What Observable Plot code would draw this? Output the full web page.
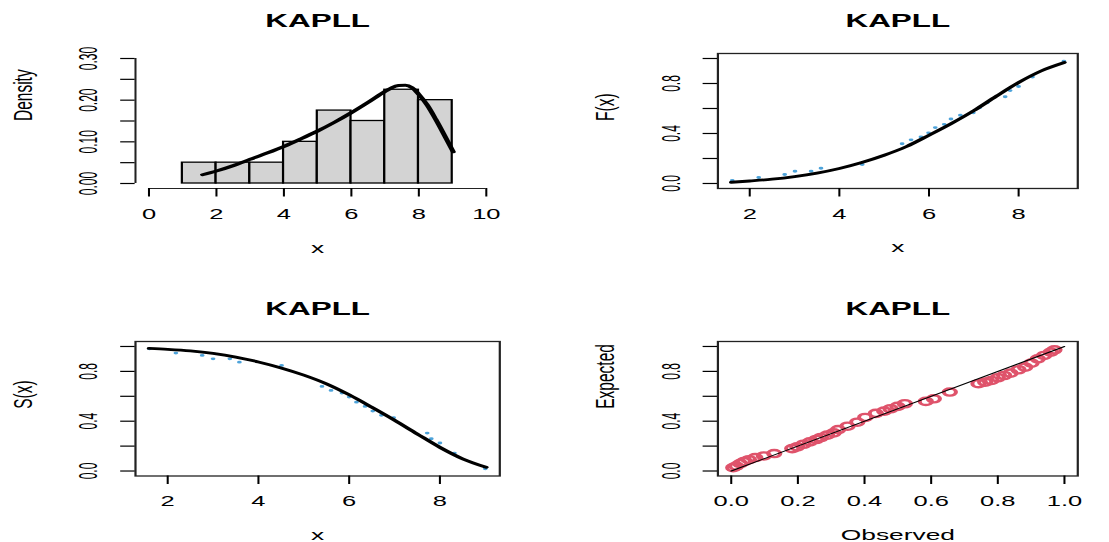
<!DOCTYPE html>
<html>
<head>
<meta charset="utf-8">
<script src="https://cdn.jsdelivr.net/npm/d3@7"></script>
<script src="https://cdn.jsdelivr.net/npm/@observablehq/plot@0.6"></script>
<style>
html, body { margin: 0; padding: 0; background: #ffffff; overflow: hidden; }
#wrap { position: relative; width: 652px; height: 542px; transform: scaleX(1.7); transform-origin: 0 0; }
#wrap svg { position: absolute; }
</style>
</head>
<body>
<div id="wrap"></div>
<script>
// ---------------- data ----------------
const panelTitle = "KAPLL";

// Panel 1: histogram + fitted density
const histBreaks = [1, 2, 3, 4, 5, 6, 7, 8, 9];
const histDensity = [0.05, 0.05, 0.05, 0.10, 0.175, 0.15, 0.225, 0.20];
const pdfX = [1.59, 2.0, 2.5, 3.0, 3.5, 4.0, 4.5, 5.0, 5.5, 6.0, 6.5, 7.0, 7.2, 7.4, 7.6, 7.8, 8.0, 8.25, 8.5, 8.75, 9.02];
const pdfY = [0.021, 0.030, 0.043, 0.058, 0.073, 0.089, 0.107, 0.126, 0.147, 0.170, 0.195, 0.221, 0.230, 0.235, 0.236, 0.230, 0.214, 0.188, 0.154, 0.117, 0.076];
const histXTicks = [0, 2, 4, 6, 8, 10];
const histXLabels = ["0", "2", "4", "6", "8", "10"];
const histYTicks = [0, 0.05, 0.10, 0.15, 0.20, 0.25, 0.30];
const histYLabels = ["0.00", "", "0.10", "", "0.20", "", "0.30"];

// Panel 2: fitted CDF + empirical points
const cdfX = [1.59, 2.0, 2.5, 3.0, 3.5, 4.0, 4.5, 5.0, 5.5, 6.0, 6.5, 7.0, 7.5, 8.0, 8.5, 9.02];
const cdfY = [0.010, 0.020, 0.034, 0.055, 0.083, 0.120, 0.168, 0.226, 0.296, 0.386, 0.480, 0.583, 0.698, 0.808, 0.900, 0.968];
const ecdfX = [1.61, 2.20, 2.78, 3.01, 3.37, 3.59, 4.51, 5.40, 5.60, 5.82, 5.99, 6.14, 6.34, 6.49, 6.70, 6.99, 7.13, 7.30, 7.70, 7.81, 8.00, 8.31, 9.01];
const ecdfY = [0.024, 0.048, 0.072, 0.098, 0.098, 0.122, 0.152, 0.318, 0.349, 0.372, 0.405, 0.447, 0.473, 0.516, 0.546, 0.565, 0.605, 0.645, 0.694, 0.743, 0.776, 0.851, 0.978];

// Panel 3: fitted survival + empirical points
const survX = [1.59, 2.0, 2.5, 3.0, 3.5, 4.0, 4.5, 5.0, 5.5, 6.0, 6.5, 7.0, 7.5, 8.0, 8.5, 9.02];
const survY = [0.985, 0.977, 0.964, 0.944, 0.915, 0.876, 0.828, 0.770, 0.700, 0.612, 0.512, 0.408, 0.298, 0.190, 0.098, 0.030];
const esurvX = [1.60, 2.18, 2.76, 3.00, 3.37, 3.58, 4.51, 5.40, 5.60, 5.84, 6.00, 6.16, 6.35, 6.52, 6.71, 6.98, 7.72, 7.81, 8.00, 8.32, 9.00];
const esurvY = [0.981, 0.947, 0.928, 0.901, 0.901, 0.874, 0.848, 0.679, 0.647, 0.626, 0.594, 0.553, 0.519, 0.481, 0.447, 0.428, 0.305, 0.259, 0.225, 0.144, 0.018];
const xTicksX = [2, 4, 6, 8];
const xTicksXLabels = ["2", "4", "6", "8"];
const probYTicks = [0, 0.2, 0.4, 0.6, 0.8, 1.0];
const probYLabels = ["0.0", "", "0.4", "", "0.8", ""];

// Panel 4: P-P plot
const ppObserved = [0.006, 0.015, 0.027, 0.038, 0.053, 0.072, 0.098, 0.129, 0.183, 0.198, 0.217, 0.236, 0.255, 0.269, 0.288, 0.307, 0.321, 0.349, 0.378, 0.402, 0.434,
                    0.459, 0.478, 0.499, 0.521, 0.584, 0.608, 0.656, 0.742, 0.762, 0.781, 0.800, 0.819, 0.838, 0.862, 0.882, 0.901, 0.920, 0.939, 0.959, 0.970];
const ppExpected = [0.027, 0.040, 0.059, 0.075, 0.091, 0.108, 0.121, 0.140, 0.180, 0.194, 0.215, 0.234, 0.253, 0.269, 0.288, 0.306, 0.333, 0.360, 0.392, 0.430, 0.463,
                    0.481, 0.500, 0.519, 0.540, 0.559, 0.580, 0.634, 0.701, 0.714, 0.727, 0.749, 0.767, 0.786, 0.813, 0.834, 0.866, 0.901, 0.928, 0.955, 0.973];
const refLine = [0, 1];
const ppXTicks = [0, 0.2, 0.4, 0.6, 0.8, 1.0];
const ppXLabels = ["0.0", "0.2", "0.4", "0.6", "0.8", "1.0"];

// ---------------- drawing ----------------
const FONT = "'Liberation Sans', Arial, Helvetica, sans-serif";
const wrap = document.getElementById("wrap");
const W = 652.35;

function labelMap(ticks, labels) {
  const m = new Map(ticks.map((t, i) => [t, labels[i]]));
  return d => m.get(d) ?? "";
}

function common(yLab, xLab) {
  return [
    Plot.text([panelTitle], {text: d => d, frameAnchor: "top", dy: -39.5, fontSize: 18.5, fontWeight: "bold", fill: "black"}),
    Plot.text([yLab], {text: d => d, frameAnchor: "left", dx: -66, rotate: -90, fontSize: 15.5, fill: "black"}),
    Plot.text([xLab], {text: d => d, frameAnchor: "bottom", dy: 64, fontSize: 15.5, fill: "black"})
  ];
}

function xAxis(ticks, labels) {
  return Plot.axisX(ticks, {anchor: "bottom", tickSize: 8.5, tickPadding: 11, tickFormat: labelMap(ticks, labels), fontSize: 15, label: null, strokeWidth: 1.2});
}
function yAxis(ticks, labels) {
  return Plot.axisY(ticks, {anchor: "left", tickSize: 8.5, tickPadding: 14, tickRotate: -90, tickFormat: labelMap(ticks, labels), fontSize: 12, label: null, strokeWidth: 1.2});
}

function place(svg, left, top) {
  svg.style.left = left + "px";
  svg.style.top = top + "px";
  // widen the rotated y tick labels across the line (as in the reference)
  svg.querySelectorAll('g[aria-label="y-axis tick label"] text').forEach(t => {
    const tr = t.getAttribute("transform") || "";
    t.setAttribute("transform", tr + " scale(1,1.3)");
  });
  wrap.appendChild(svg);
}

const baseStyle = {fontFamily: FONT, fontSize: "14px", color: "black", background: "transparent", overflow: "visible"};

// Panel 1
{
  const bins = histDensity.map((d, i) => ({x1: histBreaks[i], x2: histBreaks[i + 1], y: d}));
  const pdf = pdfX.map((x, i) => ({x, y: pdfY[i]}));
  const xDom = [-0.4, 10.4], yDom = [-0.012, 0.312];
  const svg = Plot.plot({
    width: 326, height: 271,
    marginLeft: 79.2, marginRight: 32.5, marginTop: 53, marginBottom: 83,
    style: baseStyle,
    x: {domain: xDom, axis: null},
    y: {domain: yDom, axis: null},
    marks: [
      Plot.rectY(bins, {x1: "x1", x2: "x2", y: "y", fill: "#D3D3D3", stroke: "black", strokeWidth: 1.3}),
      Plot.line(pdf, {x: "x", y: "y", stroke: "black", strokeWidth: 3, curve: "monotone-x"}),
      Plot.ruleY([yDom[0]], {x1: histXTicks[0], x2: histXTicks[histXTicks.length - 1], stroke: "#222", strokeWidth: 1.2}),
      Plot.ruleX([xDom[0]], {y1: histYTicks[0], y2: histYTicks[histYTicks.length - 1], stroke: "#222", strokeWidth: 1.2}),
      xAxis(histXTicks, histXLabels),
      yAxis(histYTicks, histYLabels),
      ...common("Density", "x")
    ]
  });
  place(svg, 0, 0);
}

const probDom = [-0.04, 1.04];
const xDomX = [1.29, 9.32];

// Panel 2
{
  const line = cdfX.map((x, i) => ({x, y: cdfY[i]}));
  const pts = ecdfX.map((x, i) => ({x, y: ecdfY[i]}));
  const svg = Plot.plot({
    width: W - 326, height: 271,
    marginLeft: 95.8, marginRight: W - 633.5, marginTop: 53, marginBottom: 83,
    style: baseStyle,
    x: {domain: xDomX, axis: null},
    y: {domain: probDom, axis: null},
    marks: [
      Plot.dot(pts, {x: "x", y: "y", r: 1.4, fill: "#4DA3DA", stroke: "none"}),
      Plot.line(line, {x: "x", y: "y", stroke: "black", strokeWidth: 2.8, curve: "monotone-x"}),
      Plot.frame({stroke: "#222", strokeWidth: 1.3}),
      xAxis(xTicksX, xTicksXLabels),
      yAxis(probYTicks, probYLabels),
      ...common("F(x)", "x")
    ]
  });
  place(svg, 326, 0);
}

// Panel 3
{
  const line = survX.map((x, i) => ({x, y: survY[i]}));
  const pts = esurvX.map((x, i) => ({x, y: esurvY[i]}));
  const svg = Plot.plot({
    width: 326, height: 271,
    marginLeft: 79.2, marginRight: 32.5, marginTop: 70, marginBottom: 66.5,
    style: baseStyle,
    x: {domain: xDomX, axis: null},
    y: {domain: probDom, axis: null},
    marks: [
      Plot.dot(pts, {x: "x", y: "y", r: 1.4, fill: "#4DA3DA", stroke: "none"}),
      Plot.line(line, {x: "x", y: "y", stroke: "black", strokeWidth: 2.8, curve: "monotone-x"}),
      Plot.frame({stroke: "#222", strokeWidth: 1.3}),
      xAxis(xTicksX, xTicksXLabels),
      yAxis(probYTicks, probYLabels),
      ...common("S(x)", "x")
    ]
  });
  place(svg, 0, 271);
}

// Panel 4
{
  const pts = ppObserved.map((x, i) => ({x, y: ppExpected[i]}));
  const ref = refLine.map(v => ({x: v, y: v}));
  const svg = Plot.plot({
    width: W - 326, height: 271,
    marginLeft: 95.8, marginRight: W - 633.5, marginTop: 70, marginBottom: 66.5,
    style: baseStyle,
    x: {domain: probDom, axis: null},
    y: {domain: probDom, axis: null},
    marks: [
      Plot.dot(pts, {x: "x", y: "y", r: 3.6, stroke: "#DF536B", strokeWidth: 2.4, fill: "none"}),
      Plot.line(ref, {x: "x", y: "y", stroke: "black", strokeWidth: 1}),
      Plot.frame({stroke: "#222", strokeWidth: 1.3}),
      xAxis(ppXTicks, ppXLabels),
      yAxis(probYTicks, probYLabels),
      ...common("Expected", "Observed")
    ]
  });
  place(svg, 326, 271);
}
</script>
</body>
</html>
